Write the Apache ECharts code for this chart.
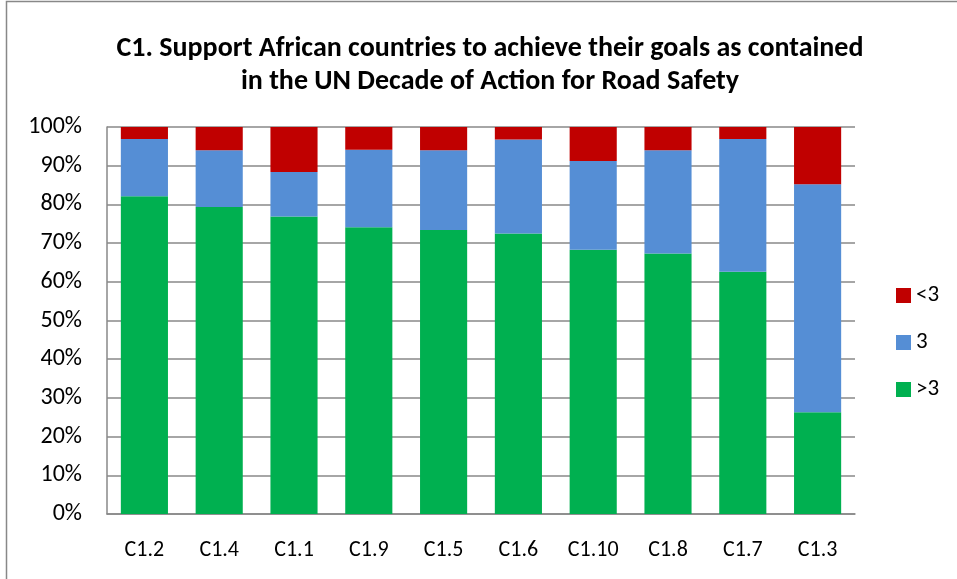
<!DOCTYPE html>
<html><head><meta charset="utf-8">
<script src="https://cdn.jsdelivr.net/npm/echarts@6/dist/echarts.min.js"></script>
<style>html,body{margin:0;padding:0;background:#fff}#c{width:957px;height:579px}</style>
</head><body><div id="c"></div>
<script>
const categories = ['C1.2','C1.4','C1.1','C1.9','C1.5','C1.6','C1.10','C1.8','C1.7','C1.3'];
const gt3 = [82.1, 79.3, 76.9, 74.1, 73.4, 72.5, 68.3, 67.3, 62.6, 26.3];
const eq3 = [14.8, 14.7, 11.5, 20.0, 20.6, 24.3, 22.9, 26.7, 34.3, 58.9];
const lt3 = [3.1, 6.0, 11.6, 5.9, 6.0, 3.2, 8.8, 6.0, 3.1, 14.8];
const yTicks = [0,10,20,30,40,50,60,70,80,90,100];
const titleText = 'C1. Support African countries to achieve their goals as contained\nin the UN Decade of Action for Road Safety';

const font = 'Carlito, "Liberation Sans Narrow", "DejaVu Sans Condensed", "Open Sans", sans-serif';
const chart = echarts.init(document.getElementById('c'));
chart.setOption({
  animation: false,
  backgroundColor: '#fff',
  graphic: [{type:'rect', shape:{x:6.5,y:1.5,width:1000,height:1000}, style:{fill:'none', stroke:'#888', lineWidth:1.5}, silent:true, z:-1}],
  title: {
    text: titleText, left: 485, top: 27, textAlign: 'center',
    textStyle: {fontFamily: font, fontWeight: 'bold', fontSize: 28, lineHeight: 33, color: '#000'}
  },
  legend: {
    orient: 'vertical', left: 891, top: 279, itemGap: 24, itemWidth: 15, itemHeight: 15,
    icon: 'rect',
    data: ['<3','3','>3'],
    textStyle: {fontFamily: font, fontSize: 23, color: '#000'}
  },
  grid: {left: 107, right: 102, top: 127, bottom: 65},
  xAxis: {
    type: 'category', data: categories,
    axisLine: {lineStyle: {color: '#888', width: 1.5}},
    axisTick: {show: false},
    axisLabel: {fontFamily: font, fontSize: 22, color: '#000', margin: 25}
  },
  yAxis: {
    type: 'value', min: 0, max: 100, interval: 10,
    axisLine: {show: true, lineStyle: {color: '#888', width: 1.5}},
    axisTick: {show: false},
    splitLine: {lineStyle: {color: '#888', width: 1.5}},
    axisLabel: {fontFamily: font, fontSize: 24, color: '#000', margin: 25,
      formatter: v => yTicks.includes(v) ? v + '%' : ''}
  },
  series: [
    {name: '>3', type: 'bar', stack: 's', data: gt3, barCategoryGap: '37%', itemStyle: {color: '#00B050'}},
    {name: '3', type: 'bar', stack: 's', data: eq3, itemStyle: {color: '#558ED5'}},
    {name: '<3', type: 'bar', stack: 's', data: lt3, itemStyle: {color: '#C00000'}}
  ]
});
</script></body></html>
